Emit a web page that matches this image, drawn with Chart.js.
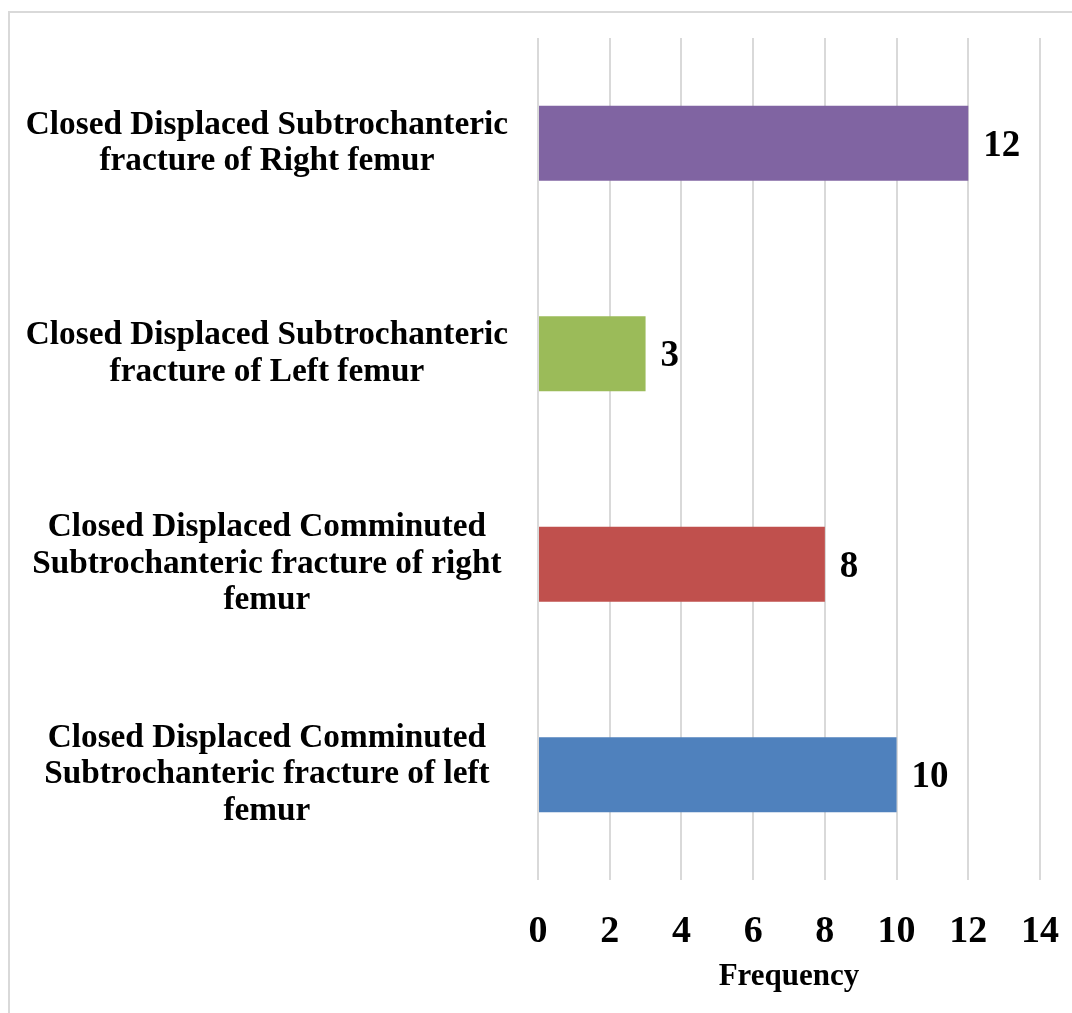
<!DOCTYPE html>
<html>
<head>
<meta charset="utf-8">
<script src="https://cdn.jsdelivr.net/npm/chart.js@4.4.1/dist/chart.umd.min.js"></script>
<style>
  html, body { margin: 0; padding: 0; background: #ffffff; overflow: hidden; }
  #wrap { position: relative; width: 1072px; height: 1013px; }
  #frame {
    position: absolute; left: 8px; top: 11px; width: 2000px; height: 2000px;
    border: 2px solid #d9d9d9; box-sizing: border-box;
  }
  #c { position: absolute; left: 0; top: 0; }
</style>
</head>
<body>
<div id="wrap">
  <div id="frame"></div>
  <canvas id="c" width="1072" height="1013"></canvas>
</div>
<script>
// Fracture types (top to bottom), each split into its display lines
const categories = [
  ["Closed Displaced Subtrochanteric", "fracture of Right femur"],
  ["Closed Displaced Subtrochanteric", "fracture of Left femur"],
  ["Closed Displaced Comminuted", "Subtrochanteric fracture of right", "femur"],
  ["Closed Displaced Comminuted", "Subtrochanteric fracture of left", "femur"]
];
const frequencies = [12, 3, 8, 10];
const barColors = ["#8064A2", "#9BBB59", "#C0504D", "#4F81BD"];
const axisMin = 0;
const axisMax = 14;
const axisStep = 2;
const axisTitle = "Frequency";

const serif = "'Liberation Serif', 'Times New Roman', serif";

// Writes each bar's value just past its end
const valueLabels = {
  id: 'valueLabels',
  afterDatasetsDraw(chart) {
    const ctx = chart.ctx;
    const meta = chart.getDatasetMeta(0);
    ctx.save();
    ctx.font = "bold 37px " + serif;
    ctx.fillStyle = "#000000";
    ctx.textAlign = "left";
    ctx.textBaseline = "middle";
    meta.data.forEach((bar, i) => {
      ctx.fillText(String(frequencies[i]), bar.x + 15, bar.y + 3);
    });
    ctx.restore();
  }
};

new Chart(document.getElementById('c'), {
  type: 'bar',
  data: {
    labels: categories,
    datasets: [{
      data: frequencies,
      backgroundColor: barColors,
      borderWidth: 0,
      barPercentage: 0.356,
      categoryPercentage: 1.0
    }]
  },
  options: {
    indexAxis: 'y',
    responsive: false,
    animation: false,
    layout: { padding: { left: 26, right: 32, top: 38, bottom: 17 } },
    plugins: {
      legend: { display: false },
      tooltip: { enabled: false }
    },
    scales: {
      x: {
        min: axisMin,
        max: axisMax,
        afterFit(scale) {
          scale.height = 116;
          scale.paddingLeft = 0;
          scale.paddingRight = 0;
        },
        ticks: {
          stepSize: axisStep,
          color: "#000000",
          padding: 29,
          font: { family: serif, size: 38, weight: 'bold' }
        },
        grid: { color: "#d9d9d9", lineWidth: 2, drawTicks: false },
        border: { display: false },
        title: {
          display: true,
          text: axisTitle,
          color: "#000000",
          padding: { top: 4, bottom: 0 },
          font: { family: serif, size: 31, weight: 'bold' }
        }
      },
      y: {
        afterFit(scale) {
          scale.width = 512;
          scale.paddingTop = 0;
          scale.paddingBottom = 0;
        },
        ticks: {
          color: "#000000",
          crossAlign: 'center',
          padding: 30,
          font: { family: serif, size: 33.3, weight: 'bold', lineHeight: 1.1 }
        },
        grid: { display: false, drawTicks: false },
        border: { display: false }
      }
    }
  },
  plugins: [valueLabels]
});
</script>
</body>
</html>
